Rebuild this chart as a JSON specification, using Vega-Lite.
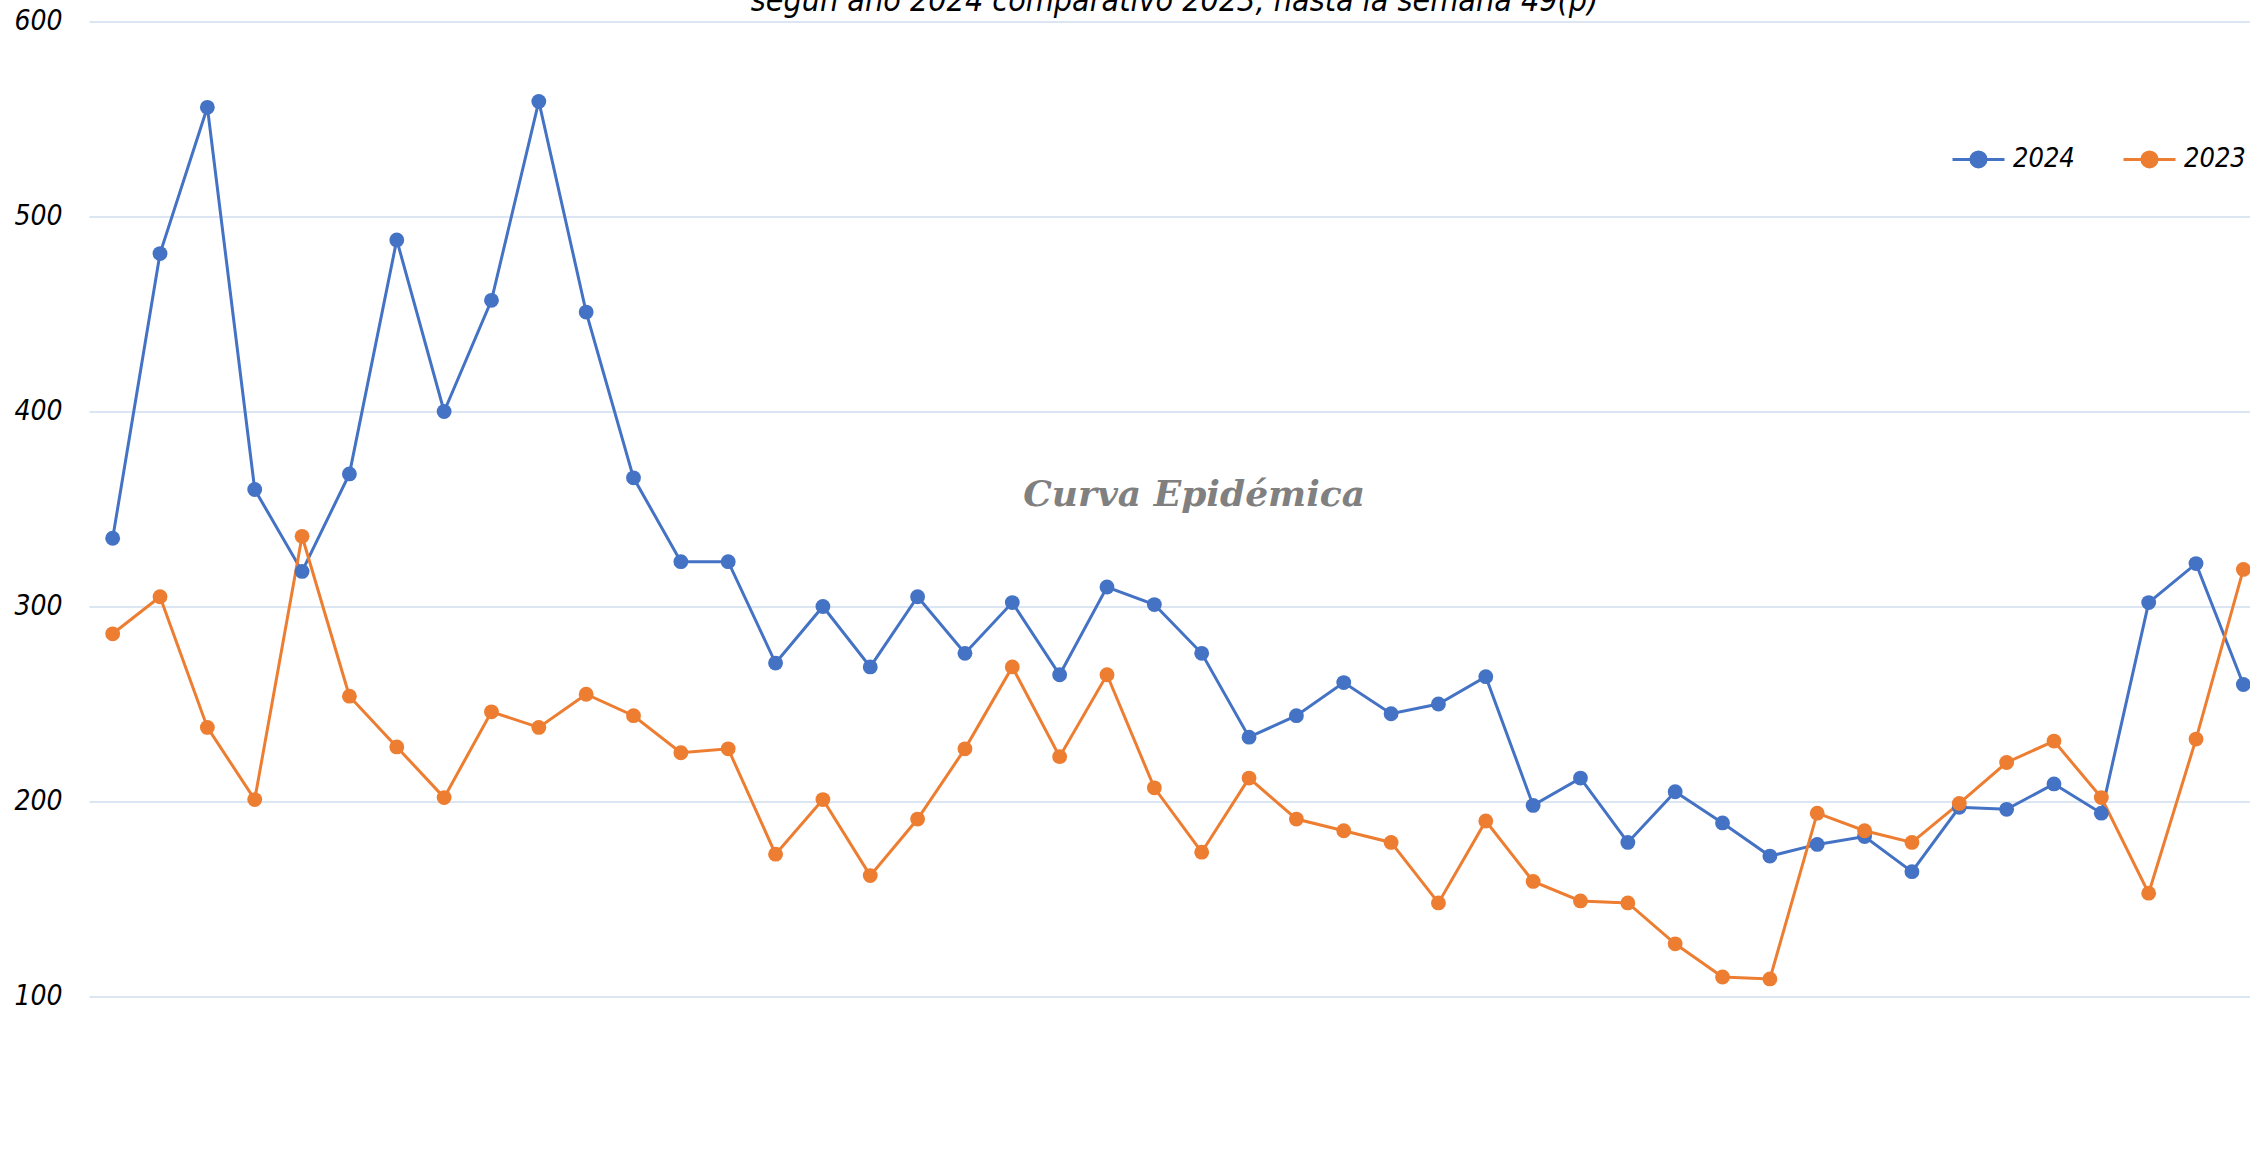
{
  "$schema": "https://vega.github.io/schema/vega-lite/v6.json",
  "autosize": {"type": "none"},
  "padding": {"left": 89, "top": 21.5, "right": 0, "bottom": 0},
  "width": 2161,
  "height": 1150.5,
  "background": "white",
  "title": {
    "text": "según año 2024 comparativo 2023, hasta la semana 49(p)",
    "font": "'DejaVu Sans Condensed', 'Liberation Sans', sans-serif",
    "fontStyle": "italic",
    "fontWeight": "normal",
    "fontSize": 32,
    "color": "black",
    "anchor": "middle",
    "offset": -10,
    "dx": 5
  },
  "config": {
    "view": {"stroke": null}
  },
  "layer": [
    {
      "data": {
        "values": [
          {"week": 1, "year": "2024", "value": 335}, {"week": 2, "year": "2024", "value": 481}, {"week": 3, "year": "2024", "value": 556},
          {"week": 4, "year": "2024", "value": 360}, {"week": 5, "year": "2024", "value": 318}, {"week": 6, "year": "2024", "value": 368},
          {"week": 7, "year": "2024", "value": 488}, {"week": 8, "year": "2024", "value": 400}, {"week": 9, "year": "2024", "value": 457},
          {"week": 10, "year": "2024", "value": 559}, {"week": 11, "year": "2024", "value": 451}, {"week": 12, "year": "2024", "value": 366},
          {"week": 13, "year": "2024", "value": 323}, {"week": 14, "year": "2024", "value": 323}, {"week": 15, "year": "2024", "value": 271},
          {"week": 16, "year": "2024", "value": 300}, {"week": 17, "year": "2024", "value": 269}, {"week": 18, "year": "2024", "value": 305},
          {"week": 19, "year": "2024", "value": 276}, {"week": 20, "year": "2024", "value": 302}, {"week": 21, "year": "2024", "value": 265},
          {"week": 22, "year": "2024", "value": 310}, {"week": 23, "year": "2024", "value": 301}, {"week": 24, "year": "2024", "value": 276},
          {"week": 25, "year": "2024", "value": 233}, {"week": 26, "year": "2024", "value": 244}, {"week": 27, "year": "2024", "value": 261},
          {"week": 28, "year": "2024", "value": 245}, {"week": 29, "year": "2024", "value": 250}, {"week": 30, "year": "2024", "value": 264},
          {"week": 31, "year": "2024", "value": 198}, {"week": 32, "year": "2024", "value": 212}, {"week": 33, "year": "2024", "value": 179},
          {"week": 34, "year": "2024", "value": 205}, {"week": 35, "year": "2024", "value": 189}, {"week": 36, "year": "2024", "value": 172},
          {"week": 37, "year": "2024", "value": 178}, {"week": 38, "year": "2024", "value": 182}, {"week": 39, "year": "2024", "value": 164},
          {"week": 40, "year": "2024", "value": 197}, {"week": 41, "year": "2024", "value": 196}, {"week": 42, "year": "2024", "value": 209},
          {"week": 43, "year": "2024", "value": 194}, {"week": 44, "year": "2024", "value": 302}, {"week": 45, "year": "2024", "value": 322},
          {"week": 46, "year": "2024", "value": 260},
          {"week": 1, "year": "2023", "value": 286}, {"week": 2, "year": "2023", "value": 305}, {"week": 3, "year": "2023", "value": 238},
          {"week": 4, "year": "2023", "value": 201}, {"week": 5, "year": "2023", "value": 336}, {"week": 6, "year": "2023", "value": 254},
          {"week": 7, "year": "2023", "value": 228}, {"week": 8, "year": "2023", "value": 202}, {"week": 9, "year": "2023", "value": 246},
          {"week": 10, "year": "2023", "value": 238}, {"week": 11, "year": "2023", "value": 255}, {"week": 12, "year": "2023", "value": 244},
          {"week": 13, "year": "2023", "value": 225}, {"week": 14, "year": "2023", "value": 227}, {"week": 15, "year": "2023", "value": 173},
          {"week": 16, "year": "2023", "value": 201}, {"week": 17, "year": "2023", "value": 162}, {"week": 18, "year": "2023", "value": 191},
          {"week": 19, "year": "2023", "value": 227}, {"week": 20, "year": "2023", "value": 269}, {"week": 21, "year": "2023", "value": 223},
          {"week": 22, "year": "2023", "value": 265}, {"week": 23, "year": "2023", "value": 207}, {"week": 24, "year": "2023", "value": 174},
          {"week": 25, "year": "2023", "value": 212}, {"week": 26, "year": "2023", "value": 191}, {"week": 27, "year": "2023", "value": 185},
          {"week": 28, "year": "2023", "value": 179}, {"week": 29, "year": "2023", "value": 148}, {"week": 30, "year": "2023", "value": 190},
          {"week": 31, "year": "2023", "value": 159}, {"week": 32, "year": "2023", "value": 149}, {"week": 33, "year": "2023", "value": 148},
          {"week": 34, "year": "2023", "value": 127}, {"week": 35, "year": "2023", "value": 110}, {"week": 36, "year": "2023", "value": 109},
          {"week": 37, "year": "2023", "value": 194}, {"week": 38, "year": "2023", "value": 185}, {"week": 39, "year": "2023", "value": 179},
          {"week": 40, "year": "2023", "value": 199}, {"week": 41, "year": "2023", "value": 220}, {"week": 42, "year": "2023", "value": 231},
          {"week": 43, "year": "2023", "value": 202}, {"week": 44, "year": "2023", "value": 153}, {"week": 45, "year": "2023", "value": 232},
          {"week": 46, "year": "2023", "value": 319}
        ]
      },
      "encoding": {
        "x": {"field": "week", "type": "quantitative", "scale": {"domain": [0.5, 46.14], "nice": false, "zero": false}, "axis": null},
        "y": {
          "field": "value", "type": "quantitative",
          "scale": {"domain": [10, 600], "nice": false, "zero": false},
          "axis": {
            "title": null, "values": [100, 200, 300, 400, 500, 600],
            "domain": false, "ticks": false, "grid": true,
            "gridColor": "#DCE6F2", "gridWidth": 2,
            "labelFont": "'DejaVu Sans Condensed', 'Liberation Sans', sans-serif", "labelFontStyle": "italic",
            "labelFontSize": 28, "labelColor": "black", "labelPadding": 27,
            "labelBaseline": "middle"
          }
        },
        "color": {
          "field": "year", "type": "nominal",
          "scale": {"domain": ["2024", "2023"], "range": ["#4472C4", "#ED7D31"]},
          "legend": {
            "title": null, "orient": "none", "direction": "horizontal",
            "legendX": 1862, "legendY": 110, "padding": 0,
            "symbolType": "M-1,0L1,0M0.29,0A0.29,0.29,0,1,1,-0.29,0A0.29,0.29,0,1,1,0.29,0Z",
            "symbolSize": 2704, "symbolStrokeWidth": 3, "symbolOpacity": 1,
            "labelFont": "'DejaVu Sans Condensed', 'Liberation Sans', sans-serif", "labelFontStyle": "italic",
            "labelFontSize": 27, "labelColor": "black", "labelOffset": 7,
            "columnPadding": 42,
            "encode": {"symbols": {"update": {"fill": {"scale": "color", "field": "value"}, "stroke": {"scale": "color", "field": "value"}}}}
          }
        }
      },
      "layer": [
        {"mark": {"type": "line", "strokeWidth": 3, "clip": true}},
        {"mark": {"type": "circle", "size": 220, "opacity": 1, "clip": true}}
      ]
    },
    {
      "data": {"values": [{"label": "Curva Epidémica"}]},
      "mark": {"type": "text", "font": "DejaVu Serif", "fontStyle": "italic", "fontWeight": "bold", "fontSize": 36, "color": "#808080", "align": "center", "baseline": "middle"},
      "encoding": {
        "x": {"datum": 23.84, "type": "quantitative"},
        "y": {"datum": 357, "type": "quantitative"},
        "text": {"field": "label", "type": "nominal"}
      }
    }
  ]
}
